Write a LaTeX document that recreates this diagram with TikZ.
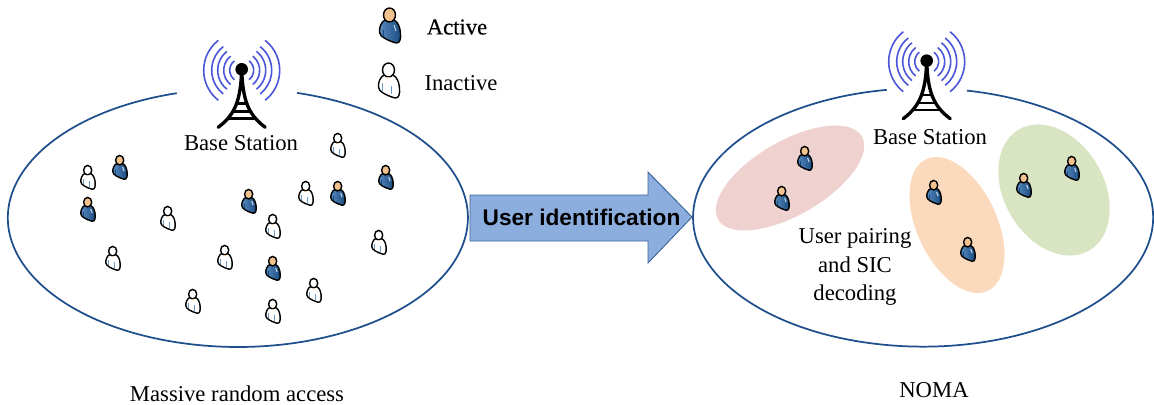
\documentclass[tikz,border=0pt]{standalone}
\usepackage{fontspec}
\setmainfont{Liberation Serif}
\newfontfamily\arialfont{Liberation Sans}
\newfontfamily\heavyserif[FakeBold=0.4]{Liberation Serif}
\definecolor{ring}{HTML}{1F4E8C}
\definecolor{wave}{HTML}{4A55D8}
\definecolor{arrowfill}{HTML}{8CAEDF}
\definecolor{arrowline}{HTML}{3F6397}
\definecolor{pinkblob}{HTML}{EFD1CF}
\definecolor{orangeblob}{HTML}{FAD9BC}
\definecolor{greenblob}{HTML}{D9E4C3}
\definecolor{skin}{HTML}{F2C28E}
\definecolor{bodyblue}{HTML}{2F6DAE}
\definecolor{bodydark}{HTML}{17497F}
\tikzset{
  cell/.style={draw=ring,line width=1.3pt},
  lab/.style={font=\fontsize{17}{20}\selectfont,inner sep=0pt,align=center},
  wavearc/.style={draw=wave,line width=1.2pt},
  towerline/.style={draw=black,line width=2.5pt,line cap=round},
  smallicon/.style={scale=.68},
  pics/activeuser/.style={code={
    \draw[line width=1.05pt,left color=bodyblue!80!white,right color=bodydark]
      (-5,-5) .. controls (-9,-3) and (-11,3) .. (-10.5,7)
      .. controls (-10.5,11) and (-4,15) .. (6,18)
      .. controls (10,18.5) and (11,14) .. (10.5,8)
      .. controls (10,2) and (8,-3) .. (4,-5) -- cycle;
    \draw[line width=1.05pt,fill=skin] (-0.5,-10) ellipse (6 and 7);
    \draw[draw=white!70!bodyblue,line width=.8pt] (4,0) -- (6,6);
    \draw[draw=bodydark,line width=.6pt] (-7,5) -- (-7,11);
  }},
  pics/idleuser/.style={code={
    \draw[line width=1.05pt,fill=white]
      (-5,-5) .. controls (-9,-3) and (-11,3) .. (-10.5,7)
      .. controls (-10.5,11) and (-4,15) .. (6,18)
      .. controls (10,18.5) and (11,14) .. (10.5,8)
      .. controls (10,2) and (8,-3) .. (4,-5) -- cycle;
    \draw[line width=1.05pt,fill=white] (-0.5,-10) ellipse (6 and 7);
    \draw[draw=bodyblue!70,line width=.6pt] (-7,3) -- (-7,11) (2,6) -- (2,14);
    \draw[draw=skin,line width=.6pt] (-2,-3) -- (1,-3);
  }},
  pics/bstower/.style={code={
    \foreach \r in {12,18,24,30,38}{
      \draw[wavearc] (-\r*.616,1-\r*.788) arc[start angle=232,end angle=128,radius=\r];
      \draw[wavearc] (\r*.616,1-\r*.788) arc[start angle=-52,end angle=52,radius=\r];
    }
    \draw[towerline] (-23.5,58) .. controls (-6,45) and (-1,30) .. (0,0)
      .. controls (1,30) and (6,45) .. (23.5,58);
    \draw[towerline,line width=1.8pt,line cap=butt] (-5.2,34) -- (5.2,34) (-9.6,42) -- (9.6,42) (-13.8,49) -- (13.8,49);
    \fill (0,0) circle (6.3);
  }}
}
\begin{document}
\begin{tikzpicture}[x=0.75pt,y=-0.75pt]
\useasboundingbox (0,0) rectangle (1154,404);
% cells (open at the tower)
\draw[cell] (297,92.9) arc[start angle=-75.1,delta angle=329.7,x radius=230,y radius=129.2];
\draw[cell] (967,90.6) arc[start angle=-79,delta angle=339.9,x radius=230,y radius=129.2];
% clusters
\fill[pinkblob,shift={(790,178)},rotate=30] (0,0) ellipse (83 and 37);
\fill[orangeblob,shift={(957,225)},rotate=115] (0,0) ellipse (72.7 and 40);
\fill[greenblob,shift={(1054,190)},rotate=120] (0,0) ellipse (70 and 50);
% towers
\pic (towerL) at (241.7,69.3) {bstower};
\pic (towerR) at (926.7,60.7) {bstower};
% arrow
\path[draw=arrowline,fill=arrowfill,line width=.7pt] (470,195) -- (648,195) -- (648,172) -- (692,217) -- (648,263) -- (648,241) -- (470,241) -- cycle;
\node[font=\arialfont\bfseries\fontsize{17}{20}\selectfont,inner sep=0pt] (arrowtext) at (581.5,217) {User identification};
% labels
\node[lab] (bsL) at (241,143) {Base Station};
\node[lab] (bsR) at (930,137) {Base Station};
\node[lab] (pairing) at (855,267) {User pairing\\[1.2pt]and SIC\\[1.2pt]decoding};
\node[lab] (captionL) at (237,393.5) {Massive random access};
\node[lab] (captionR) at (934,390) {NOMA};
\node[lab,font=\heavyserif\fontsize{17}{20}\selectfont] (legendA) at (457,27) {Active};
\node[lab] (legendI) at (461,83) {Inactive};
% legend
\pic (keyA) at (390,25) {activeuser};
\pic (keyI) at (389,80) {idleuser};
% users, left
\foreach \n/\x/\y in {a1/120/167,a2/88/209,a3/249/201,a4/338/193,a5/386/177,a6/273/268}
  \pic[smallicon] (\n) at (\x,\y) {activeuser};
\foreach \n/\x/\y in {i1/88/177,i2/338/145,i3/306/193,i4/168/218,i5/273/226,i6/379/242,i7/113/258,i8/225/257,i9/314/290,i10/193/301,i11/273/311}
  \pic[smallicon] (\n) at (\x,\y) {idleuser};
% users, right
\foreach \n/\x/\y in {r1/805/158,r2/782/198,r3/934/192,r4/968/249,r5/1024/185,r6/1072/168}
  \pic[smallicon] (\n) at (\x,\y) {activeuser};
\end{tikzpicture}
\end{document}
